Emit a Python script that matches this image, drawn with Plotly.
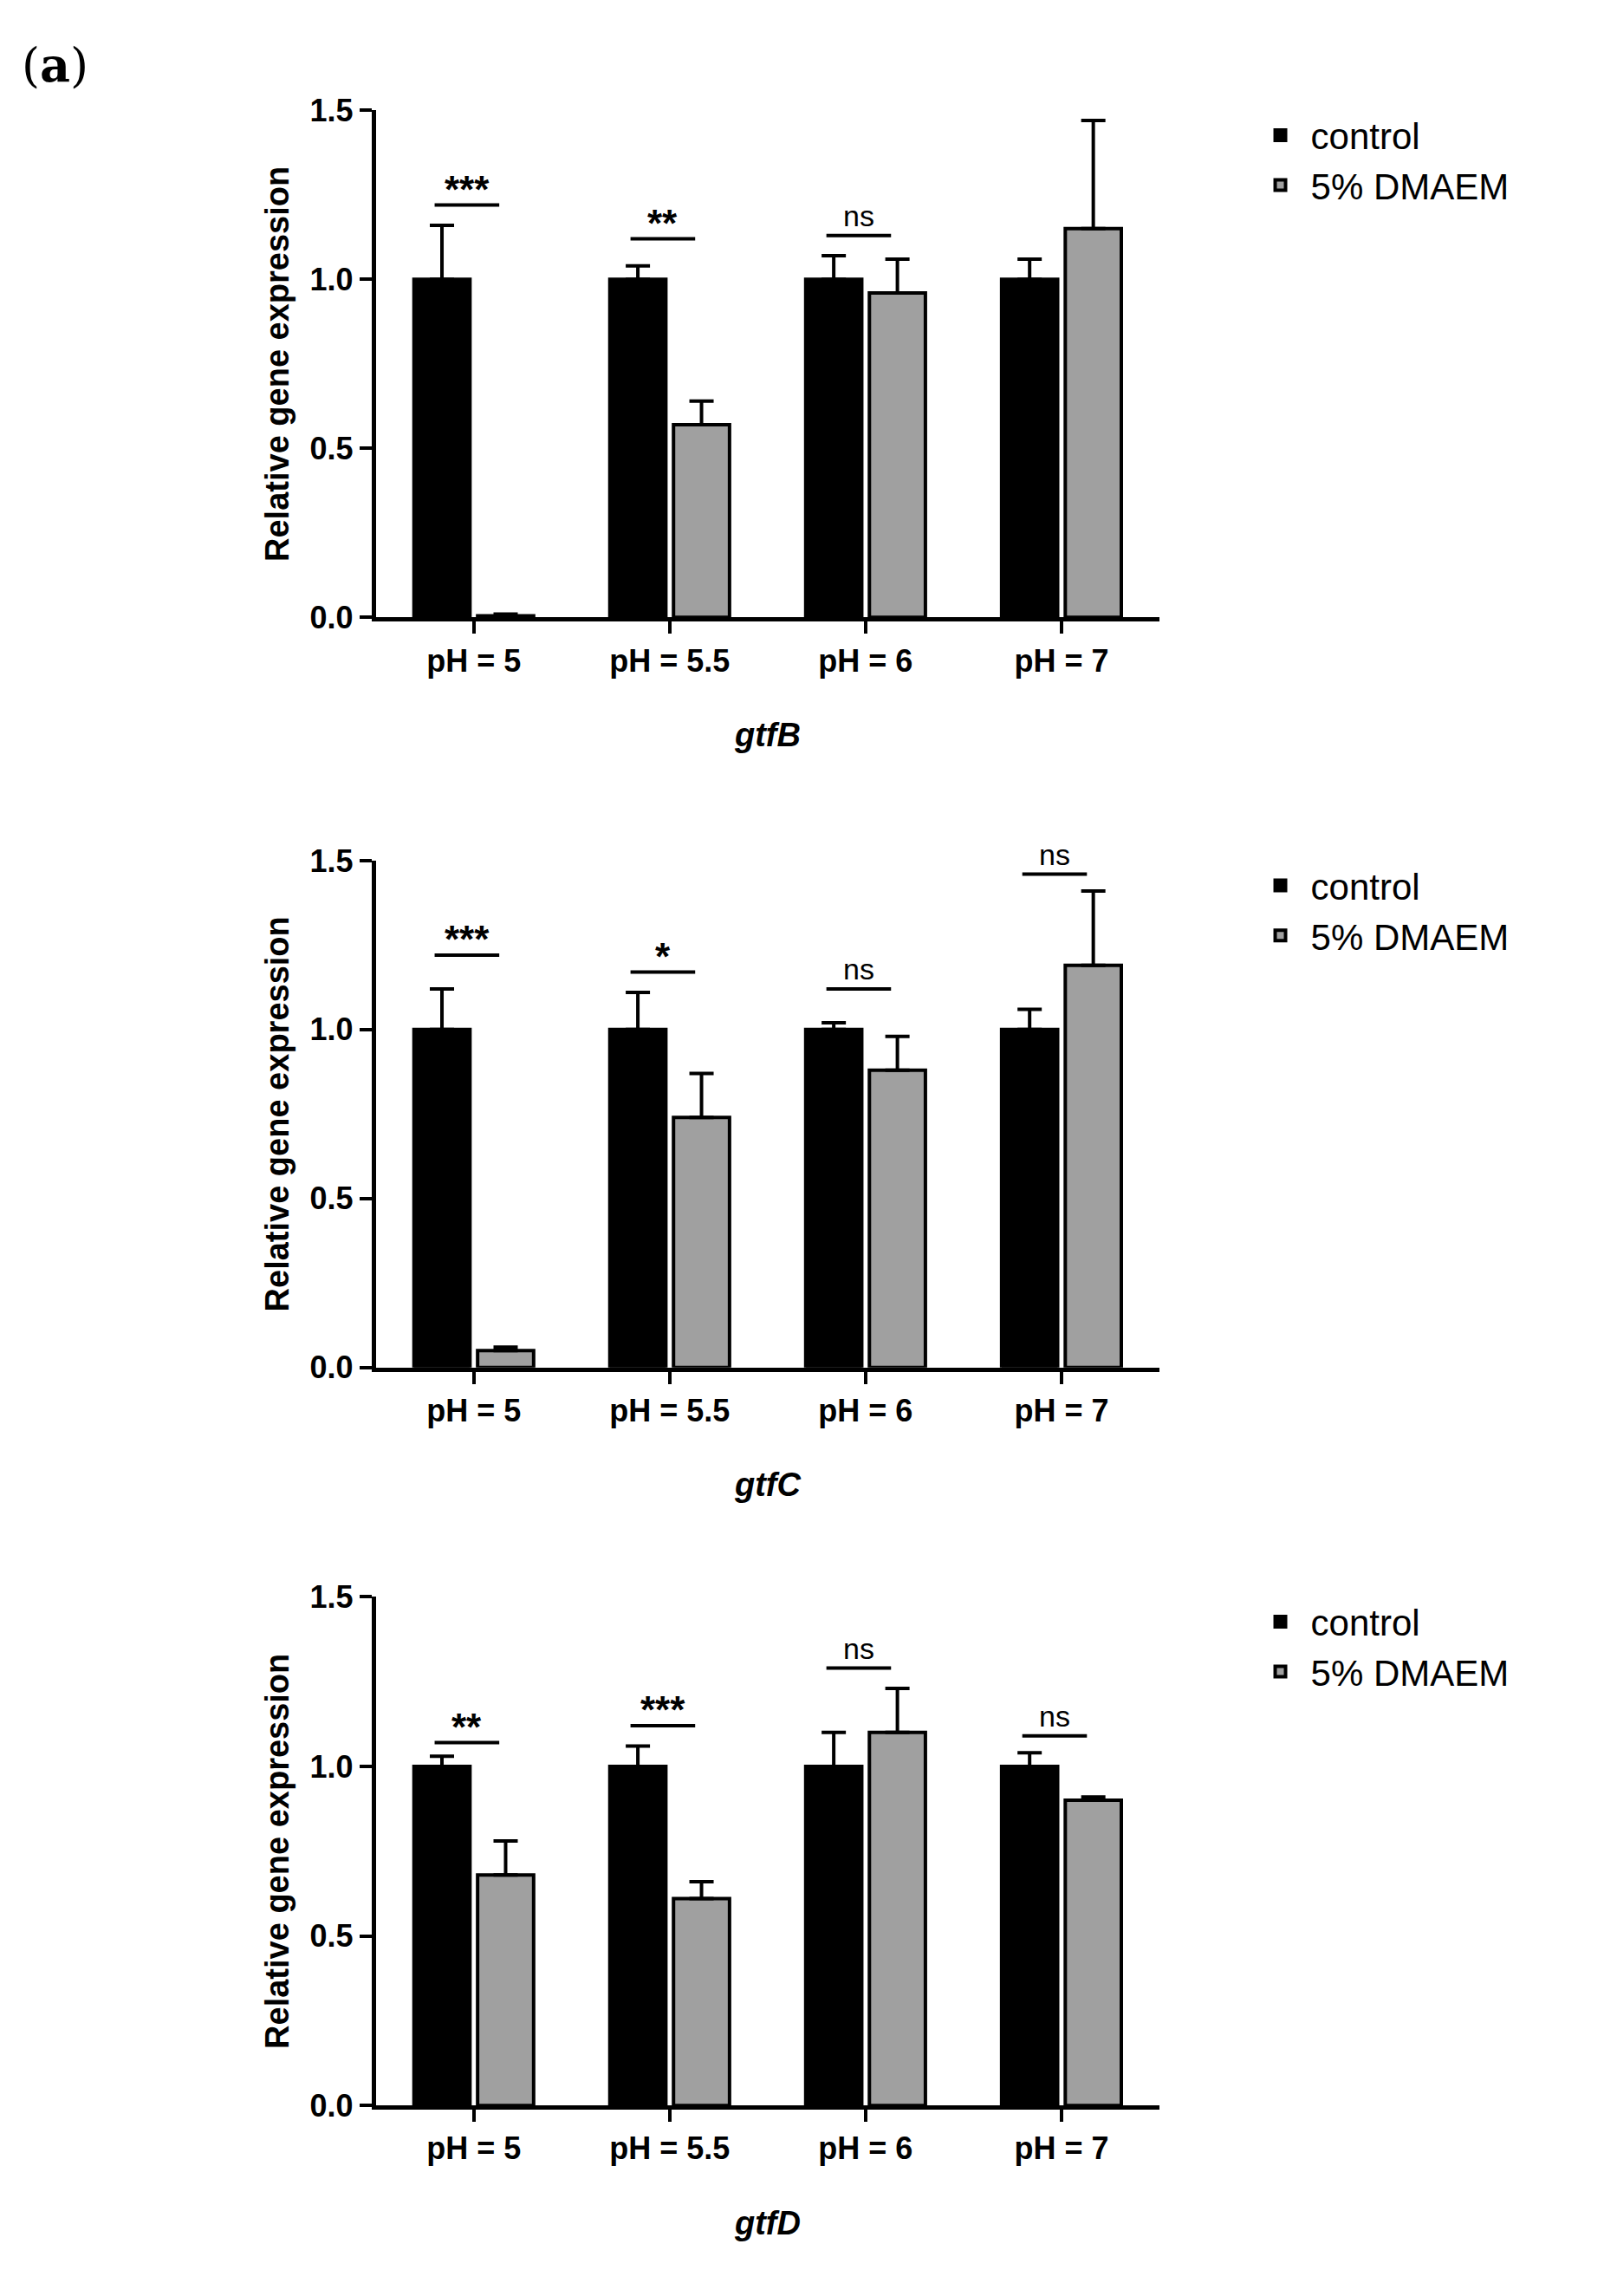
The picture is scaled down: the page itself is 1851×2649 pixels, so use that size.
import plotly.graph_objects as go

# data
categories = ["pH = 5", "pH = 5.5", "pH = 6", "pH = 7"]
genes = ["gtfB", "gtfC", "gtfD"]

control = {
    "gtfB": [1.0, 1.0, 1.0, 1.0],
    "gtfC": [1.0, 1.0, 1.0, 1.0],
    "gtfD": [1.0, 1.0, 1.0, 1.0],
}
control_err = {
    "gtfB": [0.16, 0.04, 0.07, 0.06],
    "gtfC": [0.12, 0.11, 0.02, 0.06],
    "gtfD": [0.03, 0.06, 0.10, 0.04],
}
dmaem = {
    "gtfB": [0.005, 0.57, 0.96, 1.15],
    "gtfC": [0.05, 0.74, 0.88, 1.19],
    "gtfD": [0.68, 0.61, 1.10, 0.90],
}
dmaem_err = {
    "gtfB": [0.005, 0.07, 0.10, 0.32],
    "gtfC": [0.01, 0.13, 0.10, 0.22],
    "gtfD": [0.10, 0.05, 0.13, 0.01],
}
sig_text = {
    "gtfB": ["***", "**", "ns", "ns"],
    "gtfC": ["***", "*", "ns", "ns"],
    "gtfD": ["**", "***", "ns", "ns"],
}
sig_height = {
    "gtfB": [1.22, 1.12, 1.13, 1.53],
    "gtfC": [1.22, 1.17, 1.12, 1.46],
    "gtfD": [1.07, 1.12, 1.29, 1.09],
}

W, H = 1851, 2649
FONT = "Arial, Liberation Sans, sans-serif"
y_domains = [(0.7376, 0.9619), (0.4058, 0.630), (0.0793, 0.3043)]
x_domain = (0.230, 0.7185)

fig = go.Figure()
layout = dict(
    width=W, height=H, margin=dict(l=0, r=0, t=0, b=0),
    plot_bgcolor="white", paper_bgcolor="white",
    barmode="group", bargap=0.35, bargroupgap=0.12,
    font=dict(family=FONT, color="black"),
)

for k, gene in enumerate(genes):
    sfx = "" if k == 0 else str(k + 1)
    xa, ya = "x" + sfx, "y" + sfx
    leg = "legend" + sfx
    fig.add_trace(go.Bar(
        x=categories, y=control[gene], name="control",
        marker=dict(color="black", line=dict(color="black", width=4)),
        error_y=dict(type="data", array=control_err[gene], arrayminus=[0] * 4,
                     color="black", thickness=4, width=14),
        xaxis=xa, yaxis=ya, legend=leg, offsetgroup="c",
    ))
    fig.add_trace(go.Bar(
        x=categories, y=dmaem[gene], name="5% DMAEM",
        marker=dict(color="#a0a0a0", line=dict(color="black", width=4)),
        error_y=dict(type="data", array=dmaem_err[gene], arrayminus=[0] * 4,
                     color="black", thickness=4, width=14),
        xaxis=xa, yaxis=ya, legend=leg, offsetgroup="d",
    ))
    d = y_domains[k]
    layout["xaxis" + sfx] = dict(
        domain=x_domain, anchor=ya, showline=True, linecolor="black", linewidth=5,
        ticks="outside", ticklen=14, tickwidth=4, tickcolor="black",
        tickfont=dict(size=36, family=FONT, weight="bold"),
        showgrid=False, range=[-0.5, 3.5],
    )
    layout["yaxis" + sfx] = dict(
        domain=d, anchor=xa, range=[0, 1.5], tickvals=[0, 0.5, 1.0, 1.5],
        ticktext=["0.0", "0.5", "1.0", "1.5"],
        showline=True, linecolor="black", linewidth=5,
        ticks="outside", ticklen=14, tickwidth=4, tickcolor="black",
        tickfont=dict(size=36, family=FONT, weight="bold"),
        showgrid=False, zeroline=False,
        title=dict(text="Relative gene expression", standoff=14,
                   font=dict(size=38, family=FONT, weight="bold")),
    )
    layout[leg] = dict(
        x=0.775, y=d[1] + 0.002, xanchor="left", yanchor="top",
        font=dict(size=42, family=FONT), bgcolor="rgba(0,0,0,0)",
        tracegroupgap=10, itemwidth=60,
    )
    for i, (t, h) in enumerate(zip(sig_text[gene], sig_height[gene])):
        fig.add_shape(type="line", xref=xa, yref=ya, x0=i - 0.2, x1=i + 0.13,
                      y0=h, y1=h, line=dict(color="black", width=4))
        star = t != "ns"
        fig.add_annotation(x=i - 0.035, y=h, xref=xa, yref=ya, text=t,
                           showarrow=False, yanchor="bottom",
                           yshift=-8 if star else 2,
                           font=dict(size=44 if star else 34, family=FONT,
                                     weight="bold" if star else "normal"))
    fig.add_annotation(x=sum(x_domain) / 2, y=d[0] - 0.052, xref="paper", yref="paper",
                       text="<b><i>%s</i></b>" % gene, showarrow=False, yanchor="middle",
                       font=dict(size=38, family=FONT))

fig.add_annotation(x=0.008, y=0.995, xref="paper", yref="paper", text="(<b>a</b>)",
                   showarrow=False, xanchor="left", yanchor="top",
                   font=dict(size=54, family="DejaVu Serif, serif"))

fig.update_layout(**layout)
fig.write_html("out.html")
